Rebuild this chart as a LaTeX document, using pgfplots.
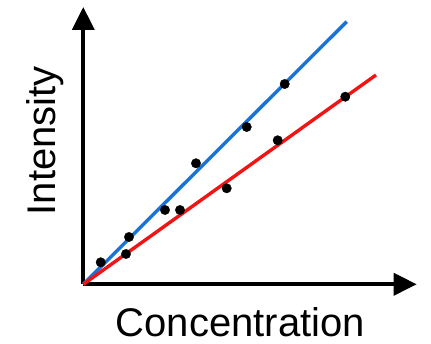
\documentclass[border=0pt]{standalone}
\usepackage{fontspec}
\setmainfont{Liberation Sans}
\usepackage{pgfplots}
\pgfplotsset{compat=1.18}
\usetikzlibrary{arrows.meta}
\definecolor{lineblue}{RGB}{25,115,215}
\definecolor{linered}{RGB}{240,20,20}
\begin{document}
\begin{tikzpicture}
\useasboundingbox (-83.3pt,-59.7pt) rectangle (347.7pt,284.3pt);
\begin{axis}[
  at={(0,0)}, anchor=origin,
  scale only axis, width=333.4pt, height=277.3pt,
  xmin=0, xmax=333.4, ymin=0, ymax=277.3,
  axis lines=left,
  axis line style={line width=3.6pt, -{Triangle[width=22pt,length=23pt]}},
  xtick=\empty, ytick=\empty,
  clip=false,
  xlabel={Concentration}, ylabel={Intensity},
  label style={font=\fontsize{40}{48}\selectfont},
  xlabel style={at={(axis description cs:0.471,-0.189)}, anchor=base},
  ylabel style={at={(axis description cs:-0.0828,0.518)}, anchor=base},
]
\addplot[lineblue, line width=3.4pt, no marks] coordinates {(0,0) (263.4,262.6)};
\addplot[linered, line width=3.4pt, no marks] coordinates {(0,0) (292.7,209.3)};
\addplot[only marks, mark=*, mark size=4.7pt, black] coordinates {
(17.4,22.0) (45.7,47.3) (42.7,30.3) (81.7,74.3) (96.7,74.3) (112.7,121.0)
(143.4,96.0) (163.4,157.3) (194.4,144.0) (201.4,200.3) (262.0,187.6)};
\end{axis}
\end{tikzpicture}
\end{document}
